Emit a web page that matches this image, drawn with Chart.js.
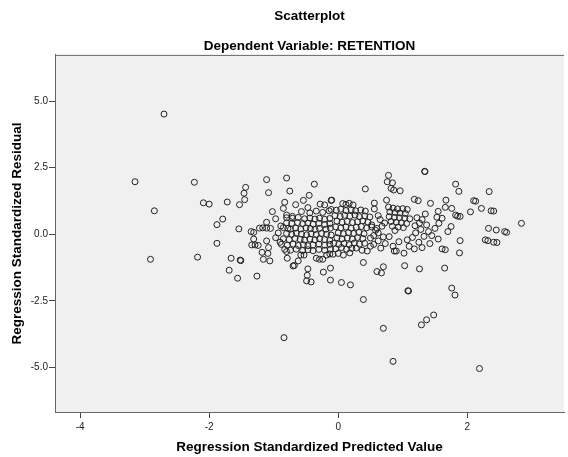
<!DOCTYPE html>
<html>
<head>
<meta charset="utf-8">
<script src="https://cdn.jsdelivr.net/npm/chart.js@4"></script>
<style>
html, body { margin: 0; padding: 0; background: #fff; }
canvas { display: block; }
</style>
</head>
<body>
<canvas id="scatter" width="568" height="457"></canvas>
<script>
// tick labels
const xTicks = [-4, -2, 0, 2];
const yTicks = [5, 2.5, 0, -2.5, -5];
const yTickText = ["5.0", "2.5", "0.0", "-2.5", "-5.0"];

// [predicted, residual] pairs
const outliers = [
  [-2.70, 4.51], [-3.15, 1.97], [-2.23, 1.95], [-2.09, 1.18], [-2.00, 1.13], [-2.85, 0.88],
  [-1.88, 0.36], [-1.88, -0.34], [-2.91, -0.94], [-2.18, -0.86],
  [-0.84, -3.88], [0.39, -2.45], [0.70, -3.53], [1.29, -3.40], [1.37, -3.21], [1.48, -3.03],
  [0.85, -4.77], [2.19, -5.04], [1.76, -2.02], [1.81, -2.28], [1.08, -2.12], [1.09, -2.13],
  [1.34, 2.36], [1.345, 2.35], [2.84, 0.41]
];

const leftGroup = [
  [-1.435, 1.76], [-1.46, 1.54], [-1.45, 1.30], [-1.53, 1.11], [-1.72, 1.21], [-1.79, 0.57], [-1.54, 0.20],
  [-1.66, -0.90], [-1.52, -0.97], [-1.51, -0.99], [-1.69, -1.35], [-1.56, -1.65], [-1.26, -1.57],
  [-1.11, 2.05], [-1.08, 1.56], [-1.02, 0.85], [-0.97, 0.58], [-1.11, 0.45],
  [-1.22, 0.23], [-1.17, 0.24], [-1.11, 0.23], [-1.05, 0.22], [-1.35, 0.10], [-1.31, 0.07], [-1.31, -0.18],
  [-1.34, -0.40], [-1.29, -0.40], [-1.24, -0.42], [-1.11, -0.25], [-1.08, -0.50], [-1.18, -0.68], [-1.09, -0.72],
  [-0.97, -0.13], [-0.89, 0.31], [-0.93, 0.05], [-0.90, -0.30],
  [-1.16, -0.94], [-1.06, -1.00]
];

const upperMid = [
  [-0.80, 2.11], [-0.75, 1.62], [-0.37, 1.88], [-0.45, 1.46], [-0.54, 1.27], [-0.83, 1.20], [-0.85, 0.97],
  [-0.66, 1.11], [-0.47, 1.00], [-0.28, 1.13], [-0.21, 1.10], [-0.11, 1.27], [-0.80, 0.72], [-0.71, 0.67],
  [-0.57, 0.85], [-0.44, 0.80], [-0.34, 0.87], [-0.24, 0.82], [-0.14, 0.88],
  [-0.10, 1.28], [0.07, 1.15], [0.12, 1.12], [0.17, 1.16], [0.23, 1.10], [0.42, 1.70], [0.56, 1.17], [0.75, 1.28],
  [0.78, 2.21], [0.76, 1.97], [0.84, 1.93], [0.82, 1.72], [0.86, 1.66], [0.96, 1.63],
  [1.18, 1.31], [1.24, 1.26], [1.43, 1.16], [1.55, 0.86], [1.53, 0.64], [1.56, 0.41], [1.35, 0.76]
];

const lowerMid = [
  [-0.80, -0.65], [-0.79, -0.90], [-0.70, -1.19], [-0.68, -1.17], [-0.62, -1.00], [-0.58, -0.78], [-0.53, -0.78],
  [-0.47, -1.30], [-0.48, -1.54], [-0.49, -1.75], [-0.42, -1.79], [-0.34, -0.90], [-0.29, -0.94], [-0.24, -0.94],
  [-0.18, -0.78], [-0.13, -0.74], [-0.23, -1.42], [-0.12, -1.27], [-0.12, -1.72],
  [0.05, -1.81], [0.19, -1.90], [0.39, -1.06], [0.66, -0.52], [0.60, -1.40], [0.67, -1.45], [0.70, -1.22],
  [1.03, -1.18], [1.02, -0.71], [0.87, -0.63], [0.90, -0.63], [1.18, -0.55], [1.26, -1.30], [1.65, -1.27],
  [1.61, -0.55], [1.66, -0.58], [0.28, -0.52], [0.37, -0.60], [0.45, -0.63], [1.88, -0.70],
  [-0.04, -0.55], [0.05, -0.50], [0.13, -0.56], [0.21, -0.53], [-0.08, -0.75], [0.00, -0.72], [0.08, -0.78], [0.18, -0.70]
];

const rightGroup = [
  [1.82, 1.88], [1.87, 1.61], [2.34, 1.60], [1.67, 1.28], [1.66, 1.01], [1.76, 0.97], [2.10, 1.26], [2.13, 1.24],
  [2.22, 0.97], [2.05, 0.84], [2.37, 0.88], [2.41, 0.87], [1.82, 0.72], [1.85, 0.68], [1.89, 0.67], [1.61, 0.60],
  [1.75, 0.29], [1.70, 0.10], [2.33, 0.22], [2.45, 0.16], [2.58, 0.10], [2.61, 0.07], [1.89, -0.24], [2.28, -0.21],
  [2.32, -0.24], [2.41, -0.30], [2.46, -0.31],
  [1.22, 0.62], [1.30, 0.55], [1.26, 0.42], [1.19, 0.32], [1.37, 0.35], [1.28, 0.18], [1.40, 0.10], [1.20, 0.05],
  [1.33, -0.08], [1.45, -0.05], [1.50, 0.22], [1.15, -0.12], [1.25, -0.30], [1.42, -0.35], [1.55, -0.18],
  [1.10, -0.45], [1.30, -0.50], [0.79, -0.09], [0.94, -0.28], [1.07, -0.21]
];

// dense middle, left half
const coreLeft = [
  [-0.80, 0.62], [-0.71, 0.60], [-0.62, 0.63], [-0.52, 0.58], [-0.44, 0.61], [-0.36, 0.57], [-0.29, 0.60], [-0.21, 0.56], [-0.13, 0.59],
  [-0.80, 0.43], [-0.72, 0.41], [-0.63, 0.44], [-0.55, 0.40], [-0.47, 0.42], [-0.39, 0.38], [-0.30, 0.41], [-0.21, 0.37], [-0.13, 0.40],
  [-0.85, 0.25], [-0.78, 0.22], [-0.74, 0.19], [-0.66, 0.23], [-0.58, 0.20], [-0.50, 0.24], [-0.43, 0.21], [-0.36, 0.18], [-0.29, 0.22], [-0.19, 0.19], [-0.12, 0.23],
  [-0.80, 0.03], [-0.72, 0.00], [-0.65, 0.04], [-0.57, 0.01], [-0.49, -0.02], [-0.42, 0.02], [-0.34, -0.01], [-0.26, 0.03], [-0.18, 0.00], [-0.11, -0.03],
  [-0.85, -0.17], [-0.76, -0.20], [-0.67, -0.16], [-0.59, -0.19], [-0.52, -0.22], [-0.44, -0.18], [-0.36, -0.21], [-0.29, -0.17], [-0.21, -0.20], [-0.13, -0.23],
  [-0.88, -0.38], [-0.79, -0.41], [-0.70, -0.37], [-0.62, -0.42], [-0.54, -0.39], [-0.47, -0.43], [-0.39, -0.40], [-0.30, -0.37], [-0.21, -0.41], [-0.13, -0.38],
  [-0.83, -0.57], [-0.74, -0.60], [-0.65, -0.56], [-0.55, -0.61], [-0.47, -0.58], [-0.39, -0.62], [-0.30, -0.57], [-0.21, -0.60], [-0.12, -0.56]
];

// dense middle, right half
const coreRight = [
  [-0.11, 0.93], [-0.03, 0.90], [0.04, 0.94], [0.12, 0.89], [0.20, 0.92], [0.27, 0.88], [0.35, 0.91], [0.42, 0.87],
  [-0.05, 0.70], [0.03, 0.67], [0.10, 0.71], [0.18, 0.68], [0.26, 0.72], [0.33, 0.66], [0.41, 0.69], [0.49, 0.65], [0.62, 0.70],
  [-0.02, 0.49], [0.06, 0.45], [0.14, 0.48], [0.22, 0.44], [0.30, 0.47], [0.38, 0.50], [0.46, 0.45],
  [-0.04, 0.28], [0.04, 0.24], [0.12, 0.27], [0.20, 0.23], [0.28, 0.26], [0.36, 0.29], [0.44, 0.24], [0.52, 0.27], [0.60, 0.22],
  [0.00, 0.05], [0.08, 0.02], [0.16, 0.06], [0.24, 0.03], [0.32, 0.07], [0.40, 0.02],
  [-0.02, -0.13], [0.06, -0.17], [0.14, -0.14], [0.22, -0.18], [0.30, -0.12], [0.38, -0.16], [0.50, -0.14],
  [-0.07, -0.34], [0.01, -0.38], [0.09, -0.35], [0.17, -0.39], [0.25, -0.33], [0.33, -0.37], [0.41, -0.34], [0.55, -0.38],
  [0.56, 0.95], [0.65, 0.55], [0.52, 0.35], [0.58, 0.15], [0.68, 0.30], [0.72, 0.42], [0.55, -0.05], [0.62, -0.25],
  [0.50, -0.45], [0.70, -0.10], [0.73, -0.35], [0.85, -0.45], [0.62, 0.05],
  [0.78, 1.02], [0.85, 0.98], [0.92, 0.95], [1.00, 0.96], [1.07, 0.93], [0.80, 0.84], [0.88, 0.82], [0.96, 0.80], [1.04, 0.78],
  [0.79, 0.66], [0.87, 0.63], [0.95, 0.62], [1.03, 0.60], [1.11, 0.58], [0.82, 0.48], [0.90, 0.45], [0.98, 0.43], [1.06, 0.40],
  [0.84, 0.30], [0.93, 0.27], [1.01, 0.25], [0.88, 0.14]
];

const allPoints = [].concat(outliers, leftGroup, upperMid, lowerMid, rightGroup, coreLeft, coreRight)
  .map(p => ({ x: p[0], y: p[1] }));

const fontFamily = "Arial, 'Liberation Sans', sans-serif";

// grey plot area + top frame line, like SPSS
const plotFrame = {
  id: "plotFrame",
  beforeDraw(chart) {
    const { ctx, chartArea: a } = chart;
    ctx.save();
    ctx.fillStyle = "#f0f0f0";
    ctx.fillRect(a.left, a.top, a.right - a.left, a.bottom - a.top);
    ctx.restore();
  },
  afterDraw(chart) {
    const { ctx, chartArea: a } = chart;
    ctx.save();
    ctx.strokeStyle = "#666";
    ctx.lineWidth = 1;
    ctx.beginPath();
    ctx.moveTo(a.left, a.top + 0.5);
    ctx.lineTo(a.right, a.top + 0.5);
    ctx.stroke();
    ctx.restore();
  }
};

new Chart(document.getElementById("scatter"), {
  type: "scatter",
  data: {
    datasets: [{
      data: allPoints,
      pointRadius: 3,
      pointBorderWidth: 1,
      pointBorderColor: "#222",
      pointBackgroundColor: "rgba(0,0,0,0)",
      pointHoverRadius: 3
    }]
  },
  options: {
    responsive: false,
    animation: false,
    layout: { padding: 0 },
    plugins: {
      legend: { display: false },
      tooltip: { enabled: false },
      title: {
        display: true,
        text: "Scatterplot",
        fullSize: false,
        color: "#000",
        font: { family: fontFamily, size: 13.5, weight: "bold" },
        padding: { top: 8, bottom: 14 }
      },
      subtitle: {
        display: true,
        text: "Dependent Variable: RETENTION",
        fullSize: false,
        color: "#000",
        font: { family: fontFamily, size: 13.5, weight: "bold" },
        padding: { top: 0, bottom: 0.5 }
      }
    },
    scales: {
      x: {
        type: "linear",
        min: -4.39,
        max: 3.50,
        afterBuildTicks: s => { s.ticks = xTicks.map(v => ({ value: v })); },
        afterFit: s => { s.height = 45; },
        border: { color: "#666", width: 1 },
        grid: { drawOnChartArea: false, drawTicks: true, tickLength: 6, color: "#444" },
        ticks: {
          color: "#222",
          padding: 3,
          font: { family: fontFamily, size: 10 },
          callback: v => String(v)
        },
        title: {
          display: true,
          text: "Regression Standardized Predicted Value",
          color: "#000",
          font: { family: fontFamily, size: 13.5, weight: "bold" },
          padding: { top: 0, bottom: 2 }
        }
      },
      y: {
        type: "linear",
        min: -6.67,
        max: 6.73,
        afterBuildTicks: s => { s.ticks = yTicks.map(v => ({ value: v })); },
        afterFit: s => { s.width = 55; },
        border: { color: "#666", width: 1 },
        grid: { drawOnChartArea: false, drawTicks: true, tickLength: 6, color: "#444" },
        ticks: {
          color: "#222",
          padding: 1,
          font: { family: fontFamily, size: 10 },
          callback: v => yTickText[yTicks.indexOf(v)]
        },
        title: {
          display: true,
          text: "Regression Standardized Residual",
          color: "#000",
          font: { family: fontFamily, size: 13.5, weight: "bold" },
          padding: { top: 9, bottom: 0 }
        }
      }
    }
  },
  plugins: [plotFrame]
});
</script>
</body>
</html>
